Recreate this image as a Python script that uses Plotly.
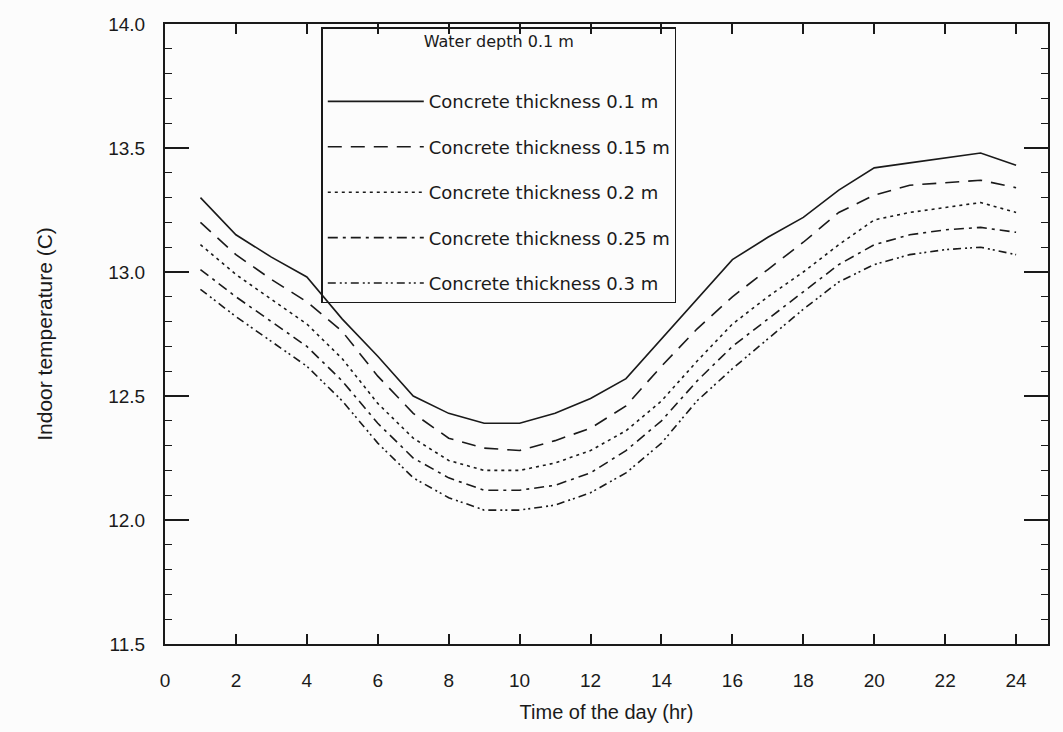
import plotly.graph_objects as go

hours = list(range(1, 25))

t_010 = [13.30, 13.15, 13.06, 12.98, 12.81, 12.66, 12.50, 12.43, 12.39, 12.39, 12.43, 12.49,
         12.57, 12.73, 12.89, 13.05, 13.14, 13.22, 13.33, 13.42, 13.44, 13.46, 13.48, 13.43]
t_015 = [13.20, 13.07, 12.97, 12.88, 12.76, 12.58, 12.43, 12.33, 12.29, 12.28, 12.32, 12.37,
         12.46, 12.62, 12.77, 12.90, 13.01, 13.12, 13.24, 13.31, 13.35, 13.36, 13.37, 13.34]
t_020 = [13.11, 12.99, 12.89, 12.79, 12.65, 12.47, 12.33, 12.24, 12.20, 12.20, 12.23, 12.28,
         12.36, 12.48, 12.64, 12.79, 12.90, 13.00, 13.11, 13.21, 13.24, 13.26, 13.28, 13.24]
t_025 = [13.01, 12.90, 12.80, 12.70, 12.56, 12.39, 12.25, 12.17, 12.12, 12.12, 12.14, 12.19,
         12.28, 12.40, 12.56, 12.70, 12.81, 12.92, 13.03, 13.11, 13.15, 13.17, 13.18, 13.16]
t_030 = [12.93, 12.82, 12.72, 12.62, 12.48, 12.31, 12.17, 12.09, 12.04, 12.04, 12.06, 12.11,
         12.19, 12.31, 12.48, 12.61, 12.73, 12.85, 12.96, 13.03, 13.07, 13.09, 13.10, 13.07]

series_names = ["Concrete thickness 0.1 m", "Concrete thickness 0.15 m",
                "Concrete thickness 0.2 m", "Concrete thickness 0.25 m",
                "Concrete thickness 0.3 m"]
series_values = [t_010, t_015, t_020, t_025, t_030]
dash_styles = ["solid", "14px,9px", "3px,4px", "10px,5px,3px,5px", "8px,4px,2px,3px,2px,4px"]

x_ticks = list(range(0, 25, 2))
y_ticks = [11.5, 12.0, 12.5, 13.0, 13.5, 14.0]
y_tick_labels = ["11.5", "12.0", "12.5", "13.0", "13.5", "14.0"]

ink = "#1a1a1a"
font_family = "Liberation Sans, Arial, sans-serif"
legend_family = "DejaVu Sans, sans-serif"

fig = go.Figure()
for name, vals, dash in zip(series_names, series_values, dash_styles):
    fig.add_trace(go.Scatter(
        x=hours, y=vals, mode="lines", name=name,
        line=dict(color=ink, width=1.6, dash=dash),
        legendgroup=name,
    ))

fig.update_layout(
    width=1063, height=732,
    margin=dict(l=165, r=15, t=24, b=86),
    paper_bgcolor="#fcfcfc",
    plot_bgcolor="#fcfcfc",
    font=dict(family=font_family, color=ink, size=18),
    showlegend=True,
    legend=dict(
        title=dict(text='<span style="font-size:16px">Water depth 0.1 m</span><br> <br> ',
                   font=dict(size=14, color=ink, family=legend_family),
                   side="top center"),
        x=0.177, y=0.995, xanchor="left", yanchor="top",
        bgcolor="rgba(0,0,0,0)", bordercolor=ink, borderwidth=1.5,
        font=dict(size=18, color=ink, family=legend_family),
        tracegroupgap=19,
        itemwidth=96,
    ),
    xaxis=dict(
        range=[0, 24.9], tickvals=x_ticks, ticktext=[str(v) for v in x_ticks],
        ticks="inside", ticklen=10, tickwidth=1.5, tickcolor=ink,
        showline=True, linecolor=ink, linewidth=2, mirror="allticks",
        showgrid=False, zeroline=False,
        ticklabelstandoff=18,
        tickfont=dict(size=19),
        title=dict(text="Time of the day (hr)", font=dict(size=20), standoff=15),
    ),
    yaxis=dict(
        range=[11.5, 14.0], tickvals=y_ticks, ticktext=y_tick_labels,
        ticks="inside", ticklen=24, tickwidth=1.6, tickcolor=ink,
        minor=dict(dtick=0.1, ticks="inside", ticklen=7, tickwidth=1.4, tickcolor=ink),
        showline=True, linecolor=ink, linewidth=2, mirror="allticks",
        showgrid=False, zeroline=False,
        ticklabelstandoff=14,
        tickfont=dict(size=19),
        title=dict(text="Indoor temperature (C)", font=dict(size=21), standoff=50),
    ),
)

fig.write_html("out.html")
